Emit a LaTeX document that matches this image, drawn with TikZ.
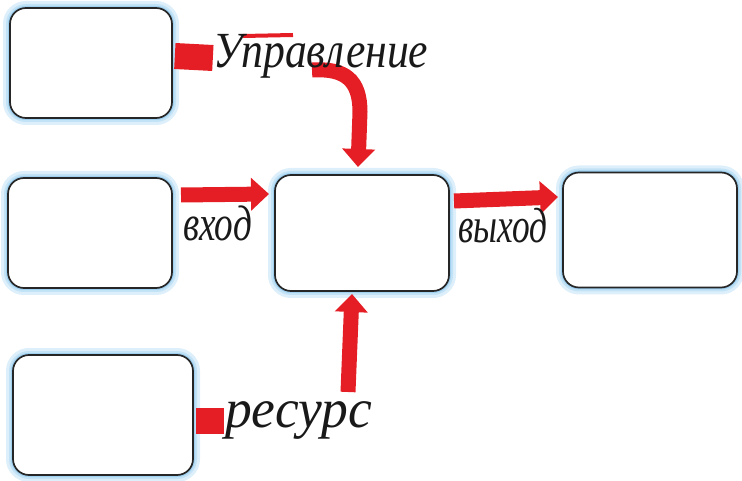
\documentclass[tikz,border=0pt]{standalone}
\usepackage{fontspec}
\setmainfont{Liberation Serif}
\usetikzlibrary{arrows.meta,calc}
\definecolor{mred}{RGB}{228,30,36}
\definecolor{glow}{RGB}{120,190,235}
\tikzset{
  box/.style={draw=black!85, line width=1.7pt, rounded corners=16pt, fill=white, inner sep=0pt,
    preaction={draw=glow!25, line width=14pt},
    preaction={draw=glow!45, line width=8pt},
    preaction={draw=glow!70, line width=4pt}},
  lbl/.style={inner sep=0pt, anchor=base west, text=black!90},
  redarrow/.style={draw=mred, line width=15pt, -{Triangle[length=18pt,width=32pt]}},
  stub/.style={draw=mred, line width=26pt}
}
\begin{document}
\begin{tikzpicture}[x=1pt,y=1pt]
\useasboundingbox (0,0) rectangle (742,-481);
% boxes
\node[box, minimum width=162pt, minimum height=110pt] (A) at (91,-63) {};
\node[box, minimum width=164pt, minimum height=110pt] (B) at (90,-233) {};
\node[box, minimum width=174pt, minimum height=116pt] (C) at (362,-233) {};
\node[box, minimum width=174pt, minimum height=115pt] (D) at (650,-230) {};
\node[box, minimum width=180pt, minimum height=120pt] (E) at (103,-415) {};
% label anchors
\coordinate (lctlpos) at (213,-68);
\coordinate (linpos) at (183,-241);
\coordinate (loutpos) at (458,-243);
\coordinate (lrespos) at (225,-427);
% connector coordinates
\coordinate (ctls) at (312,-70);
\coordinate (ctle) at (358,-167);
\coordinate (ins) at (181,-195);
\coordinate (ine) at (269,-194);
\coordinate (outs) at (454,-201);
\coordinate (oute) at (558,-197);
\coordinate (ress) at (348,-392);
\coordinate (rese) at (352,-294);
\coordinate (bar1) at (243,-36);
\coordinate (bar2) at (293,-35);
% stubs and arrows
\draw[stub] ($(A.east)+(2,7)$) -- ($(A.east)+(40,5)$);
\draw[stub] ($(E.east)+(2,-6)$) -- ($(E.east)+(30,-6)$);
\draw[mred, line width=4pt] (bar1) -- (bar2);
\draw[redarrow] (ctls) .. controls (345,-68) and (360,-80) .. (360,-112) -- (ctle);
\draw[redarrow] (ins) -- (ine);
\draw[redarrow] (outs) -- (oute);
\draw[redarrow] (ress) -- (rese);
% labels
\node[lbl, xscale=0.95, yscale=1.1, font=\itshape\fontsize{46}{46}\selectfont] (lctl) at (lctlpos) {Управление};
\node[lbl, xscale=0.93, yscale=1.25, font=\itshape\fontsize{40}{40}\selectfont] (lin) at (linpos) {вход};
\node[lbl, xscale=0.93, yscale=1.3, font=\itshape\fontsize{38}{38}\selectfont] (lout) at (loutpos) {выход};
\node[lbl, xscale=1.07, yscale=1.1, font=\itshape\fontsize{50}{50}\selectfont] (lres) at (lrespos) {ресурс};
\end{tikzpicture}
\end{document}
